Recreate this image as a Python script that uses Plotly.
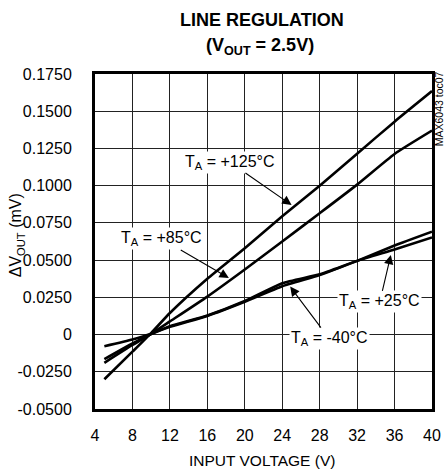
import plotly.graph_objects as go

# ---- data ----
input_voltage = [5, 8, 10, 12, 16, 20, 24, 28, 32, 36, 40]
dv_125c = [-0.030, -0.0115, 0.001, 0.0145, 0.0375, 0.058, 0.0795, 0.100, 0.1215, 0.143, 0.1635]
dv_85c = [-0.019, -0.007, 0.0005, 0.0088, 0.0255, 0.0437, 0.0625, 0.0815, 0.1007, 0.1213, 0.137]
dv_25c = [-0.0078, -0.0033, 0.0005, 0.0056, 0.0128, 0.0225, 0.0345, 0.0405, 0.0495, 0.0572, 0.0652]
dv_m40c = [-0.0165, -0.006, 0.0003, 0.0052, 0.0125, 0.022, 0.0325, 0.040, 0.0495, 0.0598, 0.0691]

x_ticks = [4, 8, 12, 16, 20, 24, 28, 32, 36, 40]
y_ticks = [0.175, 0.15, 0.125, 0.1, 0.075, 0.05, 0.025, 0, -0.025, -0.05]
y_tick_text = ["0.1750", "0.1500", "0.1250", "0.1000", "0.0750", "0.0500",
               "0.0250", "0", "-0.0250", "-0.0500"]

series = [("T<sub>A</sub> = +125°C", dv_125c),
          ("T<sub>A</sub> = +85°C", dv_85c),
          ("T<sub>A</sub> = +25°C", dv_25c),
          ("T<sub>A</sub> = -40°C", dv_m40c)]

FONT = "Liberation Sans, Arial, sans-serif"

fig = go.Figure()
for name, vals in series:
    fig.add_trace(go.Scatter(x=input_voltage, y=vals, mode="lines", name=name,
                             line=dict(color="black", width=2.6, shape="spline", smoothing=0.5),
                             showlegend=False, hoverinfo="skip"))

# curve labels with arrows: (text, tip x, tip y, ax, ay)
labels = [("T<sub>A</sub> = +125°C", 25.0, 0.0870, -62, -43),
          ("T<sub>A</sub> = +85°C", 18.3, 0.0380, -67, -39),
          ("T<sub>A</sub> = +25°C", 35.6, 0.0535, -11, 47),
          ("T<sub>A</sub> = -40°C", 24.85, 0.0322, 39, 52)]
annotations = []
for txt, tx, ty, ax, ay in labels:
    annotations.append(dict(x=tx, y=ty, xref="x", yref="y", text=txt, showarrow=True,
                            ax=ax, ay=ay, arrowhead=2, arrowsize=1.7, arrowwidth=1.1,
                            arrowcolor="black", bgcolor="white", borderpad=1,
                            font=dict(family=FONT, size=16, color="black")))

# title lines
annotations.append(dict(x=0.497, y=1.162, xref="paper", yref="paper", showarrow=False,
                        text="<b>LINE REGULATION</b>", xanchor="center", yanchor="middle",
                        font=dict(family=FONT, size=18, color="black")))
annotations.append(dict(x=0.49, y=1.081, xref="paper", yref="paper", showarrow=False,
                        text="<b>(V<sub>OUT</sub> = 2.5V)</b>", xanchor="center", yanchor="middle",
                        font=dict(family=FONT, size=18, color="black")))
# axis titles
annotations.append(dict(x=-0.232, y=0.518, xref="paper", yref="paper", showarrow=False,
                        text="ΔV<sub>OUT</sub> (mV)", textangle=-90, xanchor="center", yanchor="middle",
                        font=dict(family=FONT, size=16, color="black")))
annotations.append(dict(x=0.497, y=-0.155, xref="paper", yref="paper", showarrow=False,
                        text="INPUT VOLTAGE (V)", xanchor="center", yanchor="middle",
                        font=dict(family=FONT, size=15.5, color="black")))
annotations.append(dict(x=1.021, y=0.895, xref="paper", yref="paper", showarrow=False,
                        text="MAX6043 toc07", textangle=-90, xanchor="center", yanchor="middle",
                        font=dict(family=FONT, size=10.5, color="black")))

fig.update_layout(
    width=447, height=469,
    margin=dict(l=95, r=15, t=74, b=60),
    paper_bgcolor="white", plot_bgcolor="white",
    annotations=annotations,
    font=dict(family=FONT, color="black"),
)
fig.update_xaxes(range=[4, 40], tickvals=x_ticks, showgrid=True, gridcolor="#222", gridwidth=1,
                 zeroline=False, showline=True, linecolor="black", linewidth=3, mirror=True,
                 automargin=False,
                 ticks="", ticklabelstandoff=10, tickfont=dict(family=FONT, size=16, color="black"))
fig.update_yaxes(range=[-0.05, 0.175], tickvals=y_ticks, ticktext=y_tick_text, showgrid=True,
                 gridcolor="#222", gridwidth=1, zeroline=False, showline=True, linecolor="black",
                 linewidth=3, mirror=True, automargin=False, ticks="", ticklabelstandoff=17,
                 tickfont=dict(family=FONT, size=16, color="black"))

# remove the browser's default page margin so the figure fills the window exactly
fig.write_html("out.html", config={"displayModeBar": False},
               post_script="document.body.style.margin='0';document.body.style.overflow='hidden';")
